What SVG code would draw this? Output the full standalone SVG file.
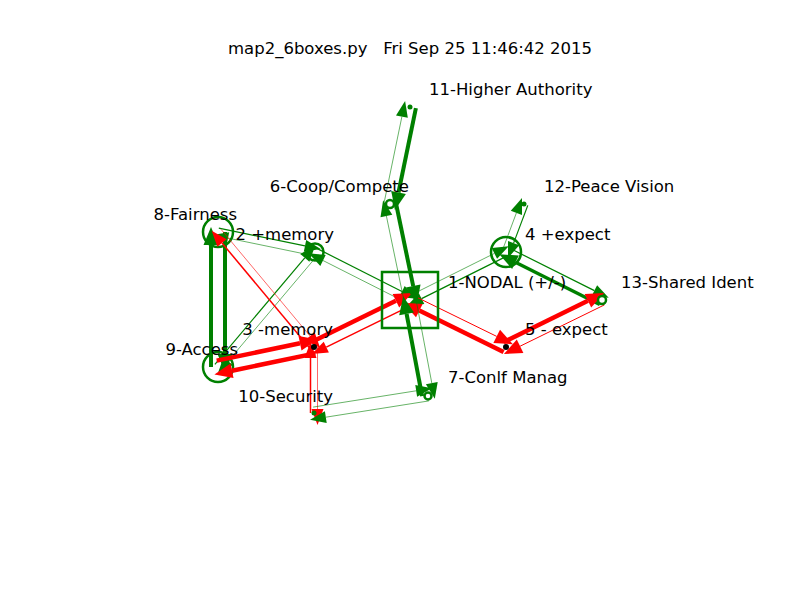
<svg xmlns="http://www.w3.org/2000/svg" width="800" height="600" viewBox="0 0 800 600">
<style>
text{font-family:"DejaVu Sans","Liberation Sans",sans-serif;font-size:16.5px;fill:#000}
.e{text-anchor:end}
.g line{stroke:#008000;fill:none}
.g polygon{fill:#008000;stroke:none}
.r line{stroke:#ff0000;fill:none}
.r polygon{fill:#ff0000;stroke:none}
.ring{fill:#fff;stroke:#008000;stroke-width:2.5}
.rb{fill:none;stroke:#008000;stroke-width:2.5}
</style>
<rect width="800" height="600" fill="#fff"/>
<text x="410" y="54" text-anchor="middle" xml:space="preserve" style="white-space:pre">map2_6boxes.py   Fri Sep 25 11:46:42 2015</text>

<g id="loops">
<circle cx="218" cy="232" r="15" class="rb"/>
<circle cx="218" cy="367" r="15" class="rb"/>
<circle cx="506" cy="252" r="15" class="rb"/>
<circle cx="315" cy="252" r="8.5" class="ring"/>
</g>

<g id="connectors">
<g class="g">
<line x1="211" y1="367" x2="211" y2="245" stroke-width="4"/><polygon points="211,227 203.5,245 218.5,245"/>
<line x1="225" y1="232" x2="225" y2="354" stroke-width="4"/><polygon points="225,372 217.5,354 232.5,354"/>
<line x1="218.8" y1="228.1" x2="305" y2="245.9" stroke-width="1.2"/><polygon points="320.7,249.1 306.2,240 303.8,251.8"/>
<line x1="314.2" y1="255.9" x2="228" y2="238.1" stroke-width="0.6"/><polygon points="212.3,234.9 226.8,244 229.2,232.2"/>
<line x1="214.9" y1="364.4" x2="304.8" y2="257.8" stroke-width="1.2"/><polygon points="315.2,245.6 300.2,253.9 309.4,261.7"/>
<line x1="318.1" y1="254.6" x2="228.1" y2="361.2" stroke-width="0.6"/><polygon points="217.8,373.4 232.7,365.1 223.5,357.3"/>
<line x1="316.8" y1="248.4" x2="402" y2="291.5" stroke-width="1.2"/><polygon points="416.3,298.7 404.7,286.1 399.3,296.9"/>
<line x1="408.2" y1="303.6" x2="323" y2="260.5" stroke-width="0.6"/><polygon points="308.7,253.3 320.3,265.9 325.7,255.1"/>
<line x1="408.2" y1="296.4" x2="494.4" y2="253.4" stroke-width="0.6"/><polygon points="508.7,246.2 491.7,248 497.1,258.8"/>
<line x1="507.8" y1="255.6" x2="421.6" y2="298.6" stroke-width="1.2"/><polygon points="407.3,305.8 424.3,304 418.9,293.2"/>
<line x1="508.2" y1="247.5" x2="594.4" y2="290.6" stroke-width="1.2"/><polygon points="608.7,297.8 597.1,285.2 591.7,296"/>
<line x1="599.8" y1="304.5" x2="515.4" y2="262.3" stroke-width="3.5"/><polygon points="499.3,254.2 512.1,269 518.8,255.6"/>
<line x1="502.3" y1="250.6" x2="516.4" y2="212.9" stroke-width="0.6"/><polygon points="522,197.9 510.8,210.8 522,215"/>
<line x1="527.8" y1="205.4" x2="513.6" y2="243.1" stroke-width="1.2"/><polygon points="508,258.1 519.2,245.2 508,241"/>
</g>
<g class="r">
<line x1="216.7" y1="360.6" x2="300" y2="343.3" stroke-width="4.5"/><polygon points="317.6,339.6 298.5,336 301.5,350.6"/>
<line x1="315.3" y1="353.4" x2="232" y2="370.7" stroke-width="4.5"/><polygon points="214.4,374.4 233.5,378 230.5,363.4"/>
<line x1="311.6" y1="342.1" x2="395.9" y2="300.8" stroke-width="4.5"/><polygon points="412.1,292.9 392.6,294.1 399.2,307.5"/>
<line x1="412.4" y1="304.9" x2="326.3" y2="347.1" stroke-width="1.5"/><polygon points="311.9,354.1 328.9,352.5 323.7,341.7"/>
<line x1="412.4" y1="295.1" x2="496.7" y2="336.4" stroke-width="1"/><polygon points="512.9,344.3 500,329.7 493.4,343.1"/>
<line x1="503.6" y1="351.9" x2="419.3" y2="310.6" stroke-width="4.5"/><polygon points="403.1,302.7 416,317.3 422.6,303.9"/>
<line x1="503.6" y1="342.1" x2="587.9" y2="300.8" stroke-width="4.5"/><polygon points="604.1,292.9 584.6,294.1 591.2,307.5"/>
<line x1="604.4" y1="304.9" x2="520.1" y2="346.2" stroke-width="1"/><polygon points="503.9,354.1 523.4,352.9 516.8,339.5"/>
<line x1="310.9" y1="349.6" x2="222" y2="243" stroke-width="1.5"/><polygon points="211.7,230.7 217.4,246.8 226.6,239.2"/>
<line x1="221.1" y1="229.4" x2="310" y2="336" stroke-width="0.6"/><polygon points="320.3,348.3 314.6,332.2 305.4,339.9"/>
<line x1="317.5" y1="347" x2="317.5" y2="409" stroke-width="0.6"/><polygon points="317.5,425 311.5,409 323.5,409"/>
<line x1="310.5" y1="413" x2="310.5" y2="358" stroke-width="1.5"/><polygon points="310.5,342 316.5,358 304.5,358"/>
</g>
<g class="g">
<line x1="415.9" y1="108.2" x2="398.5" y2="192.5" stroke-width="4"/><polygon points="394.9,210.1 405.9,194 391.2,191"/>
<line x1="384.1" y1="202.8" x2="401.9" y2="116.6" stroke-width="0.6"/><polygon points="405.1,100.9 396,115.4 407.8,117.8"/>
<line x1="395.9" y1="202.8" x2="413.2" y2="286.1" stroke-width="4"/><polygon points="416.9,303.7 420.5,284.6 405.9,287.6"/>
<line x1="404.1" y1="301.2" x2="386.4" y2="216" stroke-width="0.6"/><polygon points="383.1,200.3 380.5,217.2 392.3,214.8"/>
<line x1="422.1" y1="396.1" x2="406.6" y2="313.9" stroke-width="4"/><polygon points="403.2,296.2 399.2,315.3 414,312.5"/>
<line x1="415.9" y1="298.9" x2="431.8" y2="383.1" stroke-width="0.6"/><polygon points="434.8,398.8 437.7,382 425.9,384.2"/>
<line x1="313.1" y1="407.1" x2="416.2" y2="390.8" stroke-width="0.6"/><polygon points="432,388.3 415.3,384.9 417.1,396.7"/>
<line x1="428.9" y1="400.9" x2="325.8" y2="417.2" stroke-width="0.6"/><polygon points="310,419.7 326.7,423.1 324.9,411.3"/>
</g>
</g>

<g id="n1"><rect x="382" y="272" width="56" height="56" fill="none" stroke="#008000" stroke-width="2.5"/><text x="448" y="288">1-NODAL (+/-)</text></g>
<g id="n2"><text x="334" y="240" class="e">2 +memory</text></g>
<g id="n3"><circle cx="314" cy="347" r="3" fill="#000"/><text x="333" y="335" class="e">3 -memory</text></g>
<g id="n4"><text x="525" y="240">4 +expect</text></g>
<g id="n5"><circle cx="506" cy="347" r="3" fill="#000"/><text x="525" y="335">5 - expect</text></g>
<g id="n6"><circle cx="390" cy="204" r="4" class="ring"/><text x="409" y="192" class="e">6-Coop/Compete</text></g>
<g id="n7"><circle cx="428" cy="396" r="3.5" class="ring"/><text x="448" y="383">7-Conlf Manag</text></g>
<g id="n8"><text x="237" y="220" class="e">8-Fairness</text></g>
<g id="n9"><text x="238" y="355" class="e">9-Access</text></g>
<g id="n10"><circle cx="314" cy="413" r="2.5" fill="#008000"/><text x="333" y="402" class="e">10-Security</text></g>
<g id="n11"><circle cx="410" cy="107" r="2.5" fill="#008000"/><text x="429" y="95">11-Higher Authority</text></g>
<g id="n12"><circle cx="524" cy="204" r="2.5" fill="#008000"/><text x="544" y="192">12-Peace Vision</text></g>
<g id="n13"><circle cx="602" cy="300" r="4" class="ring"/><text x="621" y="288">13-Shared Ident</text></g>
</svg>
